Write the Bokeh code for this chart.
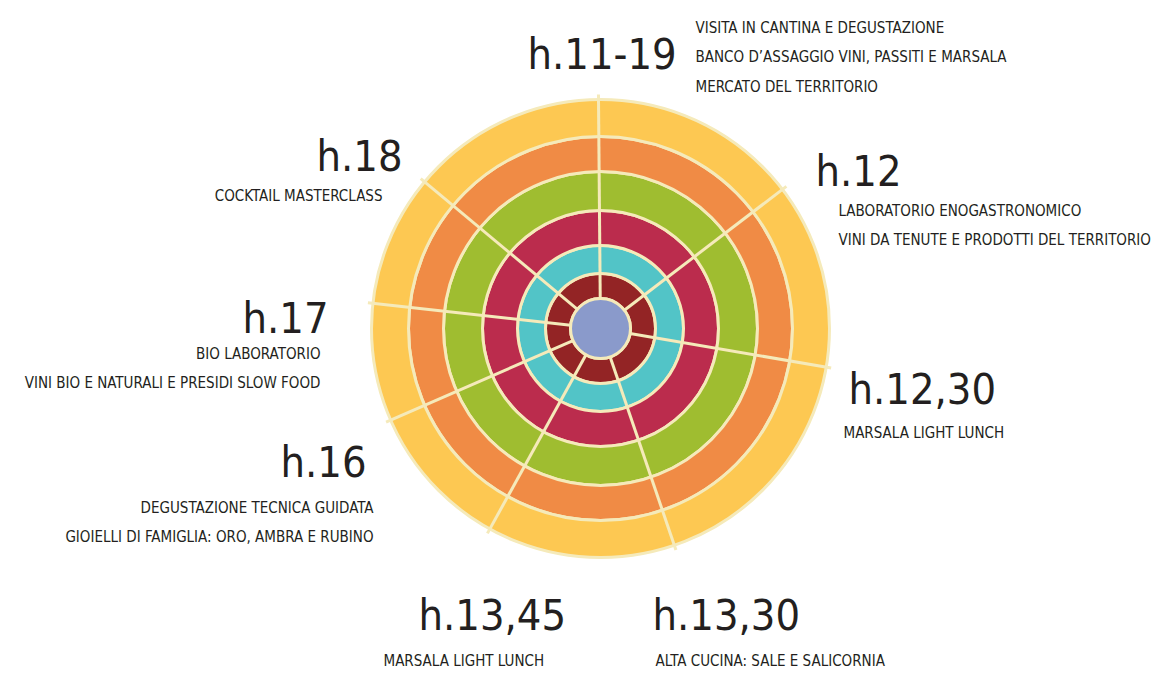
import numpy as np
from bokeh.plotting import figure
from bokeh.models import Range1d
from bokeh.core.properties import value
from bokeh.embed import file_html
from bokeh.resources import INLINE

# ---------------- data ----------------
times = ["h.11-19", "h.12", "h.12,30", "h.13,30", "h.13,45", "h.16", "h.17", "h.18"]
descriptions = [
    ["VISITA IN CANTINA E DEGUSTAZIONE",
     "BANCO D\u2019ASSAGGIO VINI, PASSITI E MARSALA",
     "MERCATO DEL TERRITORIO"],
    ["LABORATORIO ENOGASTRONOMICO",
     "VINI DA TENUTE E PRODOTTI DEL TERRITORIO"],
    ["MARSALA LIGHT LUNCH"],
    ["ALTA CUCINA: SALE E SALICORNIA"],
    ["MARSALA LIGHT LUNCH"],
    ["DEGUSTAZIONE TECNICA GUIDATA",
     "GIOIELLI DI FAMIGLIA: ORO, AMBRA E RUBINO"],
    ["BIO LABORATORIO",
     "VINI BIO E NATURALI E PRESIDI SLOW FOOD"],
    ["COCKTAIL MASTERCLASS"],
]
# sector boundary directions (degrees, counter-clockwise from east)
spoke_angles_deg = [90.5, 37.4, -9.7, -71.2, -118.9, -156.4, 173.7, 140.2]
# rings from inside to outside
ring_colors = ["#932425", "#52C4C7", "#BB2C4D", "#9FBD30", "#F08B45", "#FDC852"]
center_color = "#8A9ACB"
line_color = "#F5EABA"
text_color = "#231F20"

# ---------------- layout (pixel coordinates of the page) ----------------
W, H = 1151, 674
cx, cy = 600, 328
ring_edges = [30, 55, 83, 118, 157, 192, 229]
spoke_end = 234
# (x, baseline y, align) as seen in the picture
time_pos = [(527, 70, "left"), (815, 187, "left"), (848, 405, "left"),
            (652, 631, "left"), (418, 631, "left"), (366, 478, "right"),
            (328, 334, "right"), (402, 172, "right")]
desc_pos = [(695, 35, "left"), (838, 218, "left"), (843, 440, "left"),
            (655, 668, "left"), (383, 668, "left"), (373, 515, "right"),
            (320, 361, "right"), (382, 203, "right")]
line_step = 29.5
BIG_SHIFT, SMALL_SHIFT = -17, -8   # svg text is drawn below the requested baseline
FONT = "DejaVu Sans Condensed, DejaVu Sans"

p = figure(width=W, height=H, x_range=Range1d(0, W), y_range=Range1d(H, 0),
           output_backend="svg", toolbar_location=None, min_border=0)
p.axis.visible = False
p.grid.visible = False
p.outline_line_color = None
p.background_fill_color = "white"
p.border_fill_color = "white"

# rings
for i, col in enumerate(ring_colors):
    p.annulus(x=cx, y=cy, inner_radius=ring_edges[i], outer_radius=ring_edges[i + 1],
              fill_color=col, line_color=line_color, line_width=3)

# spokes
ang = np.radians(spoke_angles_deg)
x0 = cx + ring_edges[0] * np.cos(ang)
y0 = cy - ring_edges[0] * np.sin(ang)
x1 = cx + spoke_end * np.cos(ang)
y1 = cy - spoke_end * np.sin(ang)
p.segment(x0=x0, y0=y0, x1=x1, y1=y1, line_color=line_color, line_width=3)

# centre
p.circle(x=cx, y=cy, radius=ring_edges[0], fill_color=center_color,
         line_color=line_color, line_width=3)

# labels
for t, (tx, ty, ta), lines, (dx, dy, da) in zip(times, time_pos, descriptions, desc_pos):
    p.text(x=[tx], y=[ty + BIG_SHIFT], text=[t], text_align=ta, text_baseline="alphabetic",
           text_font=value(FONT), text_font_size="43px", text_color=text_color)
    p.text(x=[dx] * len(lines),
           y=[dy + SMALL_SHIFT + k * line_step for k in range(len(lines))],
           text=lines, text_align=da, text_baseline="alphabetic",
           text_font=value(FONT), text_font_size="15px", text_color=text_color)

open("out.html", "w").write(file_html(p, INLINE))
